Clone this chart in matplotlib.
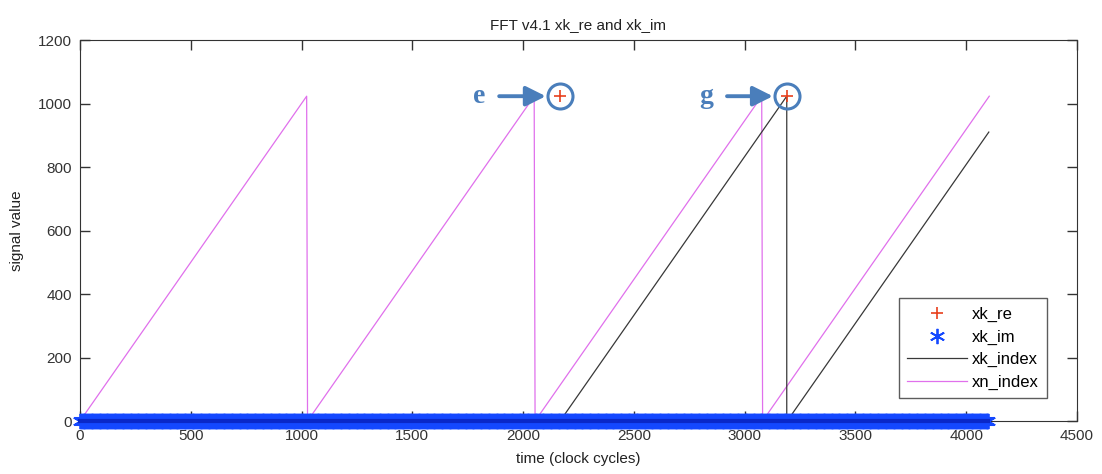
"""
FFT v4.1 simulation trace: xk_re / xk_im outputs with the input and output
index counters, plus the two marked peaks (e, g).
"""

import numpy as np
import matplotlib
matplotlib.use("Agg")
import matplotlib.pyplot as plt

# --- data --------------------------------------------------------------------
# xn_index: input sample counter (sawtooth break points)
xn_t = [0, 1023, 1027, 2050, 2054, 3077, 3081, 4104]
xn_v = [0, 1023, 0, 1023, 0, 1023, 0, 1023]

# xk_index: output bin counter (break points)
xk_t = [2167, 3190, 3190, 3192, 4102]
xk_v = [0, 1023, 0, 0, 910]

# xk_im: zero over the whole run (drawn as dense asterisk markers)
xk_im_t = np.arange(0, 4104, 4)
xk_im_v = np.zeros(len(xk_im_t))

# xk_re: nonzero outputs that stand out from the zero band
xk_re_t = [2165, 3190]
xk_re_v = [1023, 1023]

# hand-drawn callouts
mark_t = [2165, 3190]
mark_v = [1023, 1023]
mark_lbl = ["e", "g"]

x_ticks = [0, 500, 1000, 1500, 2000, 2500, 3000, 3500, 4000, 4500]
y_ticks = [0, 200, 400, 600, 800, 1000, 1200]

plt.rcParams["font.family"] = ["Liberation Sans", "DejaVu Sans"]

fig = plt.figure(figsize=(11.02, 4.74), dpi=100)
ax = fig.add_axes([0.0726, 0.1118, 0.9047, 0.8038])

asterisk = (6, 2, 0)
ax.plot(xk_re_t, xk_re_v, "+", color="#e8401c", ms=9, mew=1.2, zorder=6,
        label="xk_re")
ax.plot(xk_im_t, xk_im_v, ls="none", marker=asterisk, color="#1448ff",
        ms=11, mew=1.3, zorder=4, label="xk_im", clip_on=False)
# darker core where the asterisk arms pile up
ax.plot([xk_im_t[0], xk_im_t[-1]], [0, 0], "-", color="#0a28c8", lw=3,
        zorder=5, clip_on=False)
ax.plot(xk_t, xk_v, "-", color="#383838", lw=0.9, zorder=3, label="xk_index")
ax.plot(xn_t, xn_v, "-", color="#e070ec", lw=0.9, zorder=2, label="xn_index")

# callouts: circle around the peak, arrow from the letter
blue = "#4a7ebb"
ax.plot(mark_t, mark_v, "o", ms=18, mfc="none", mec=blue, mew=2.2, zorder=7,
        clip_on=False)
for t, v, lbl in zip(mark_t, mark_v, mark_lbl):
    ax.annotate(lbl, xy=(t, v), xytext=(-58, 0), textcoords="offset points",
                ha="center", va="center", fontsize=20, fontweight="bold",
                family="Liberation Serif", color=blue, zorder=8,
                arrowprops=dict(arrowstyle="-|>,head_length=0.6,head_width=0.3",
                                color=blue, lw=2.8, shrinkA=8, shrinkB=10))

ax.set_xlim(0, 4500)
ax.set_ylim(0, 1200)
ax.set_xticks(x_ticks)
ax.set_yticks(y_ticks)
ax.tick_params(direction="in", length=7, width=1, top=True, right=True,
               labelsize=11, colors="#333333", pad=6)
for s in ax.spines.values():
    s.set_color("#333333")

ax.set_title("FFT v4.1 xk_re and xk_im", fontsize=11, color="#222222", pad=8)
ax.set_xlabel("time (clock cycles)", fontsize=11, color="#222222", labelpad=6)
ax.set_ylabel("signal value", fontsize=11, color="#222222", labelpad=10)

leg = ax.legend(loc="lower right", bbox_to_anchor=(0.97, 0.06), fontsize=12,
                frameon=True, fancybox=False, handlelength=3.6,
                labelspacing=0.45, borderpad=0.5, handletextpad=0.3,
                borderaxespad=0)
leg.get_frame().set_edgecolor("#333333")
leg.get_frame().set_linewidth(1)

fig.savefig("out.png", dpi=100)
